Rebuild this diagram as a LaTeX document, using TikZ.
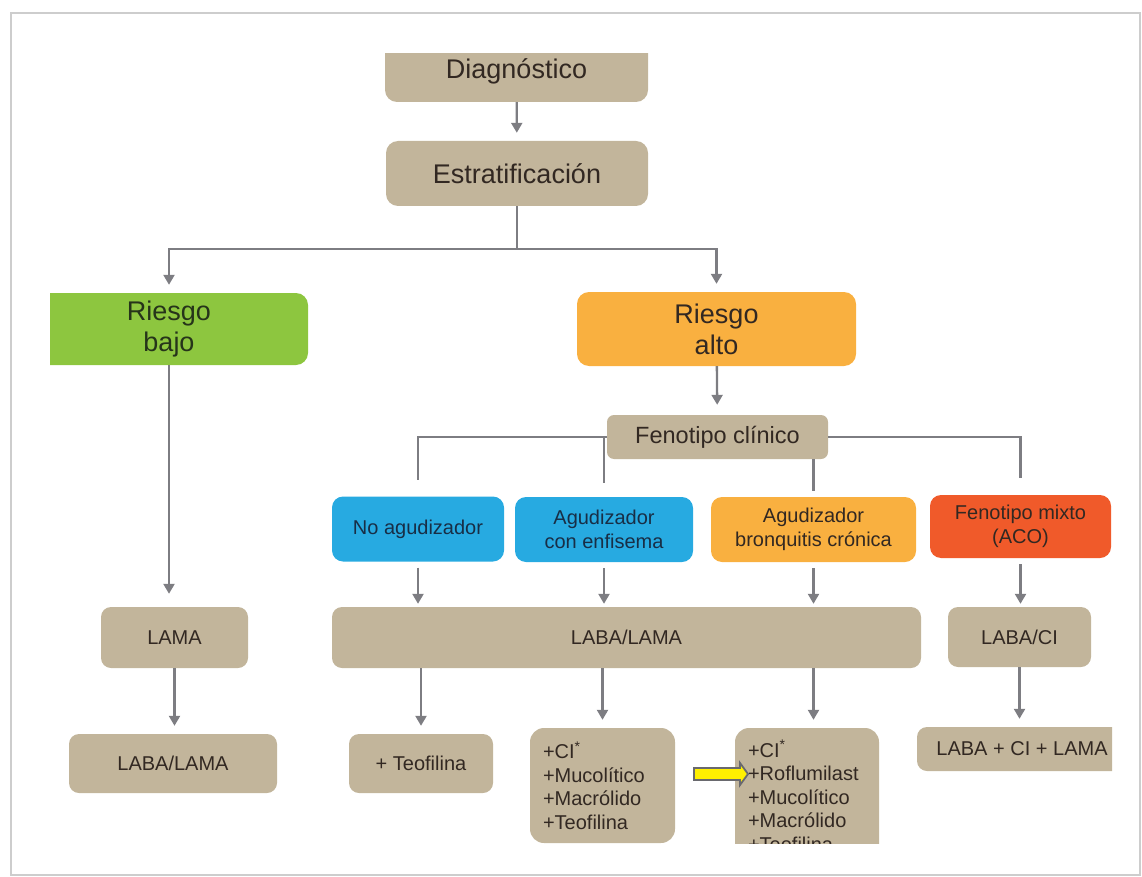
\documentclass[tikz,border=0pt]{standalone}
\usepackage{fontspec}
\setmainfont{Liberation Sans}
\usepackage{xcolor}
\usetikzlibrary{arrows.meta,positioning}
\definecolor{boxtan}{RGB}{194,181,155}
\definecolor{riskgreen}{RGB}{141,198,63}
\definecolor{riskorange}{RGB}{249,176,64}
\definecolor{phenoblue}{RGB}{39,170,225}
\definecolor{phenored}{RGB}{240,90,42}
\definecolor{textdark}{RGB}{50,40,34}
\definecolor{textblue}{RGB}{24,46,70}
\definecolor{textgreen}{RGB}{38,52,26}
\definecolor{linegray}{RGB}{125,125,130}
\definecolor{framegray}{RGB}{205,205,205}
\definecolor{pointeryellow}{RGB}{255,240,0}
\definecolor{pointergray}{RGB}{105,105,110}
\newcommand{\bigtxt}{\fontsize{27}{31}\selectfont}
\newcommand{\smalltxt}{\fontsize{20}{23.5}\selectfont}

\begin{document}
\begin{tikzpicture}[
    x=1pt, y=-1pt,
    tanbox/.style={rectangle,rounded corners=10pt,fill=boxtan,text=textdark,
      inner sep=0pt,align=center,font=\smalltxt},
    bigbox/.style={tanbox,rounded corners=12pt,font=\bigtxt},
    phenobox/.style={tanbox,rounded corners=11pt,minimum height=65pt},
    listbox/.style={tanbox,align=left,rounded corners=14pt},
    arrow/.style={-{Triangle[length=10pt,width=11pt]},draw=linegray,line width=2.3pt,
      shorten >=8pt},
    link/.style={draw=linegray,line width=2.3pt}
  ]
  \useasboundingbox (0,0) rectangle (1142,877);
  \draw[framegray,line width=2.5pt] (11,13) rectangle (1140,875);

  \begin{scope}
    \clip (50,54) rectangle (1112,843);
    \node[bigbox,minimum width=263pt,minimum height=62pt] (diag) at (516.5,71) {Diagnóstico};
    \node[bigbox,minimum width=262pt,minimum height=65pt] (estrat) at (517,173.5) {Estratificación};
    \node[bigbox,fill=riskgreen,text=textgreen,minimum width=278pt,minimum height=72pt] (bajo) at (169,329) {Riesgo\\bajo};
    \node[bigbox,fill=riskorange,minimum width=279pt,minimum height=74pt] (alto) at (716.5,329) {Riesgo\\alto};
    \node[tanbox,font=\fontsize{23.5}{28}\selectfont,rounded corners=7pt,
      minimum width=221pt,minimum height=44pt] (feno) at (717.5,437) {Fenotipo clínico};

    \node[phenobox,fill=phenoblue,text=textblue,minimum width=172pt] (noag) at (418,529) {No agudizador};
    \node[phenobox,fill=phenoblue,text=textblue,minimum width=178pt] (enf) at (604,529.5) {Agudizador\\con enfisema};
    \node[phenobox,fill=riskorange,minimum width=205pt] (bron) at (813.5,529.5) {Agudizador\\bronquitis crónica};
    \node[phenobox,fill=phenored,minimum width=181pt,minimum height=63pt] (mixto) at (1020.5,526.5) {Fenotipo mixto\\(ACO)};

    \node[tanbox,minimum width=147pt,minimum height=61pt] (lama) at (174.5,637.5) {LAMA};
    \node[tanbox,minimum width=589pt,minimum height=61pt] (labalama) at (626.5,637.5) {LABA/LAMA};
    \node[tanbox,minimum width=143pt,minimum height=60pt] (labaci) at (1019.5,637) {LABA/CI};

    \node[tanbox,minimum width=208pt,minimum height=59pt] (lablam) at (173,763.5) {LABA/LAMA};
    \node[tanbox,minimum width=144pt,minimum height=59pt] (teof) at (421,763.5) {+ Teofilina};
    \node[listbox,text width=119pt,minimum width=145pt,minimum height=115pt] (cimuc) at (602.5,785.5)
      {+CI\textsuperscript{*}\\+Mucolítico\\+Macrólido\\+Teofilina};
    \node[listbox,text width=118pt,minimum width=144pt,minimum height=136pt] (cirof) at (807,796)
      {+CI\textsuperscript{*}\\+Roflumilast\\+Mucolítico\\+Macrólido\\+Teofilina};
    \node[tanbox,minimum width=210pt,minimum height=44pt] (triple) at (1022,749) {LABA + CI + LAMA};

    \coordinate (split) at (517,249);
    \draw[arrow] (diag) -- (estrat);
    \draw[link] (estrat) -- (split);
    \draw[arrow] (split) -| (bajo);
    \draw[arrow] (split) -| (alto);
    \draw[arrow,shorten >=10pt] (alto) -- (feno);

    \draw[link] (feno.west) -| ([yshift=16pt]noag.north);
    \draw[link] (feno.west -| enf.north) -- ([yshift=14pt]enf.north);
    \draw[link] (feno.south -| bron.north) -- ([yshift=6pt]bron.north);
    \draw[link] (feno.east) -| ([yshift=17pt]mixto.north);

    \foreach \n in {noag,enf,bron}
      \draw[arrow,shorten <=6pt,shorten >=3pt] (\n.south) -- (\n.south |- labalama.north);
    \draw[arrow,shorten <=6pt,shorten >=3pt] (mixto.south) -- (mixto.south |- labaci.north);

    \draw[arrow,shorten >=13pt] (bajo.south) -- (bajo.south |- lama.north);
    \draw[arrow] (lama.south) -- (lama.south |- lablam.north);
    \draw[arrow] (labalama.south -| teof.north) -- (teof.north);
    \draw[arrow] (labalama.south -| cimuc.north) -- (cimuc.north);
    \draw[arrow] (labalama.south -| bron.south) -- (bron.south |- cirof.north);
    \draw[arrow] (labaci.south) -- (labaci.south |- triple.north);

    \filldraw[fill=pointeryellow,draw=pointergray,line width=1.8pt]
      (694,768) -- (740,768) -- (740,763) -- (748,774) -- (740,785) -- (740,780) -- (694,780) -- cycle;
  \end{scope}
\end{tikzpicture}
\end{document}
